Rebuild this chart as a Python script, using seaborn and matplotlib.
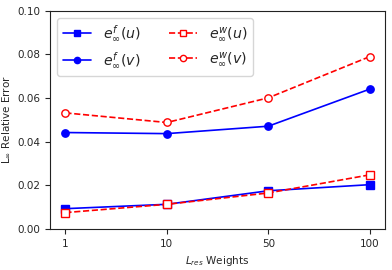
import pandas as pd
import matplotlib
matplotlib.use("Agg")
import matplotlib.pyplot as plt
import seaborn as sns

# values
weights = ["1", "10", "50", "100"]
ef_u = [0.0093, 0.0113, 0.0175, 0.0203]
ef_v = [0.0442, 0.0437, 0.0471, 0.0641]
ew_u = [0.0075, 0.0113, 0.0165, 0.0248]
ew_v = [0.0532, 0.0488, 0.0601, 0.0790]

sns.set_style("ticks")
plt.rcParams['font.family'] = ['DejaVu Sans']

fig, ax = plt.subplots(figsize=(3.92, 2.7), dpi=100)

series = [
    (ef_u, r"$e^f_\infty(u)$", "blue", "-", "s", "blue"),
    (ef_v, r"$e^f_\infty(v)$", "blue", "-", "o", "blue"),
    (ew_u, r"$e^w_\infty(u)$", "red", "--", "s", "white"),
    (ew_v, r"$e^w_\infty(v)$", "red", "--", "o", "white"),
]
for vals, lab, col, ls, mk, fc in series:
    df = pd.DataFrame({"x": range(len(weights)), "y": vals})
    sns.lineplot(data=df, x="x", y="y", ax=ax, color=col, linestyle=ls,
                 marker=mk, markerfacecolor=fc, markeredgecolor=col,
                 markersize=5.3, markeredgewidth=1, linewidth=1.2, label=lab)

ax.set_xticks(range(len(weights)))
ax.set_xticklabels(weights)
ax.set_ylim(0, 0.10)
ax.set_yticks([0.0, 0.02, 0.04, 0.06, 0.08, 0.10])
ax.set_yticklabels(["0.00", "0.02", "0.04", "0.06", "0.08", "0.10"])
ax.tick_params(labelsize=7.5, length=3.5, width=0.8)
ax.set_xlabel(r"$L_{res}$ Weights", fontsize=7.5)
ax.set_ylabel(r"$\mathrm{L}_\infty$ Relative Error", fontsize=7.5)
for s in ax.spines.values():
    s.set_visible(True)
    s.set_color("#222222")
    s.set_linewidth(0.8)

ax.legend(ncol=2, fontsize=10.2, loc="upper left", frameon=True,
          markerscale=0.85, columnspacing=2.0)

fig.subplots_adjust(left=0.128, right=0.982, top=0.96, bottom=0.152)
fig.savefig("out.png", dpi=100)
